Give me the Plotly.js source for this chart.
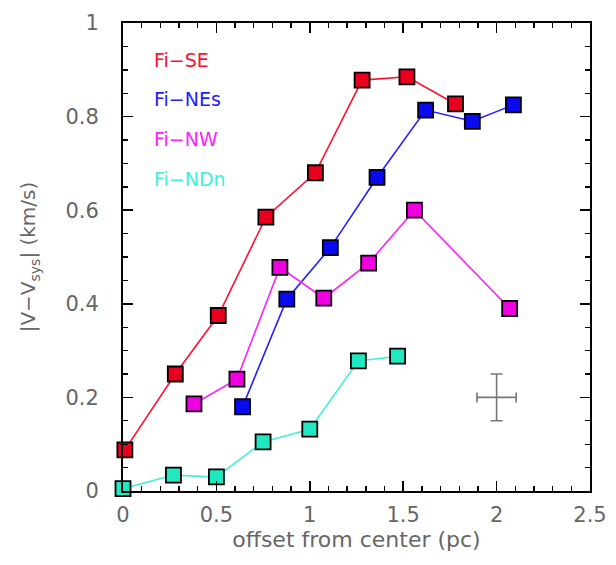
<!DOCTYPE html>
<html>
<head>
<meta charset="utf-8">
<script src="https://cdn.plot.ly/plotly-3.0.1.min.js"></script>
<style>html,body{margin:0;padding:0;background:#fff;}</style>
</head>
<body>
<div id="chart" style="width:616px;height:565px;"></div>
<script>
// Fi-SE
const seX = [0.01, 0.28, 0.51, 0.765, 1.03, 1.28, 1.52, 1.78];
const seY = [0.088, 0.25, 0.375, 0.585, 0.68, 0.878, 0.885, 0.827];
// Fi-NEs
const nesX = [0.64, 0.877, 1.11, 1.36, 1.62, 1.87, 2.09];
const nesY = [0.18, 0.41, 0.52, 0.67, 0.814, 0.79, 0.825];
// Fi-NW
const nwX = [0.38, 0.61, 0.84, 1.075, 1.315, 1.56, 2.07];
const nwY = [0.186, 0.239, 0.478, 0.412, 0.487, 0.60, 0.39];
// Fi-NDn
const ndnX = [0.0, 0.27, 0.50, 0.75, 1.0, 1.26, 1.47];
const ndnY = [0.005, 0.034, 0.03, 0.105, 0.132, 0.278, 0.288];
// typical error bar
const errX = [2.0];
const errY = [0.2];
const errDX = [0.105];
const errDY = [0.05];

const names = ['Fi−SE', 'Fi−NEs', 'Fi−NW', 'Fi−NDn'];
const lineColors = ['#ff1030', '#2020ff', '#ff20ff', '#40f0d8'];
const fillColors = ['#e8001e', '#0a0af0', '#f000e0', '#20e8c0'];
const xs = [seX, nesX, nwX, ndnX];
const ys = [seY, nesY, nwY, ndnY];

const FONT = 'DejaVu Sans, Liberation Sans, Arial, sans-serif';

const traces = xs.map((x, i) => ({
  x: x, y: ys[i], type: 'scatter', mode: 'lines+markers', name: names[i],
  line: {color: lineColors[i], width: 1.6},
  marker: {symbol: 'square', size: 15, color: fillColors[i], line: {color: '#000', width: 1.8}},
  cliponaxis: false
}));
traces.push({
  x: errX, y: errY, type: 'scatter', mode: 'markers', showlegend: false,
  marker: {size: 1, color: 'rgba(0,0,0,0)'},
  error_x: {type: 'data', array: errDX, color: '#777', thickness: 1.6, width: 5},
  error_y: {type: 'data', array: errDY, color: '#777', thickness: 1.6, width: 6}
});

const legendYs = [0.92, 0.838, 0.752, 0.667];
const annotations = names.map((n, i) => ({
  x: 0.062, y: legendYs[i], xref: 'paper', yref: 'paper', text: n, showarrow: false,
  xanchor: 'left', yanchor: 'middle',
  font: {family: FONT, size: 19, color: lineColors[i]}
}));

const axisCommon = {
  showgrid: false, zeroline: false, showline: true, linecolor: '#000', linewidth: 2,
  mirror: 'ticks', ticks: 'inside', ticklen: 10, tickwidth: 1.6, tickcolor: '#000',
  tickfont: {family: FONT, size: 21, color: '#666'}
};

const layout = {
  width: 616, height: 565,
  margin: {l: 123, r: 26, t: 23, b: 74},
  paper_bgcolor: '#fff', plot_bgcolor: '#fff',
  showlegend: false,
  xaxis: Object.assign({}, axisCommon, {
    range: [0, 2.5], dtick: 0.5, tick0: 0,
    ticklabelstandoff: 4,
    minor: {dtick: 0.1, ticks: 'inside', ticklen: 5, tickwidth: 1.4, tickcolor: '#000'},
    title: {text: 'offset from center (pc)', standoff: 0,
      font: {family: FONT, size: 22, color: '#666'}}
  }),
  yaxis: Object.assign({}, axisCommon, {
    range: [0, 1], dtick: 0.2, tick0: 0,
    minor: {dtick: 0.05, ticks: 'inside', ticklen: 5, tickwidth: 1.4, tickcolor: '#000'},
    ticklabelstandoff: 18,
    title: {text: '|V−V<sub>sys</sub>| (km/s)', standoff: 24,
      font: {family: FONT, size: 20, color: '#666'}}
  }),
  annotations: annotations
};

Plotly.newPlot('chart', traces, layout, {displayModeBar: false, staticPlot: true});
</script>
</body>
</html>
